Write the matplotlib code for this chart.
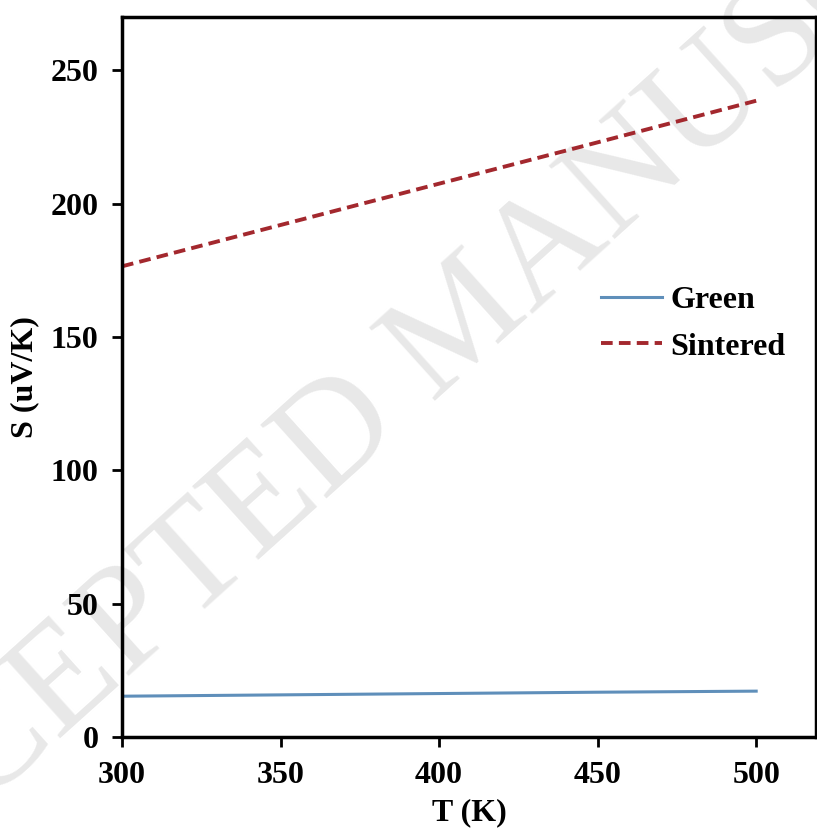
import matplotlib
matplotlib.use("Agg")
import matplotlib.pyplot as plt

temperature = [300, 350, 400, 450, 500]
green = [15.3, 15.8, 16.3, 16.8, 17.2]
sintered = [176.5, 192.0, 207.5, 223.0, 238.6]
xticks = [300, 350, 400, 450, 500]
yticks = [0, 50, 100, 150, 200, 250]

plt.rcParams["font.family"] = ["Liberation Serif", "DejaVu Serif"]
plt.rcParams["font.weight"] = "bold"

fig = plt.figure(figsize=(8.17, 8.34), dpi=100)
ax = fig.add_axes([0.1493, 0.1163, 0.85, 0.8633])
ax.set_facecolor("none")

# faint watermark behind everything
fig.text(0.57, 0.61, "ACCEPTED MANUSCRIPT", fontsize=108, color="#e8e8e8",
         fontweight="normal", rotation=42, ha="center", va="center", zorder=-1)

ax.plot(temperature, green, color="#5f8fba", lw=2.2, label="Green")
ax.plot(temperature, sintered, color="#a3282e", lw=2.8, ls=(0, (3, 1.6)), label="Sintered")

ax.set_xlim(300, 519)
ax.set_ylim(0, 270)
ax.set_xticks(xticks)
ax.set_yticks(yticks)
ax.tick_params(labelsize=23, width=2, length=7, direction="out", pad=10)
for s in ax.spines.values():
    s.set_linewidth(2.5)

ax.set_xlabel("T (K)", fontsize=23, fontweight="bold", labelpad=6)
ax.set_ylabel("S (uV/K)", fontsize=23, fontweight="bold", labelpad=8)

leg = ax.legend(loc="upper left", bbox_to_anchor=(0.672, 0.645), frameon=False,
                fontsize=23, handlelength=1.9, handletextpad=0.25, labelspacing=0.55,
                borderaxespad=0)

fig.savefig("out.png", dpi=100)
